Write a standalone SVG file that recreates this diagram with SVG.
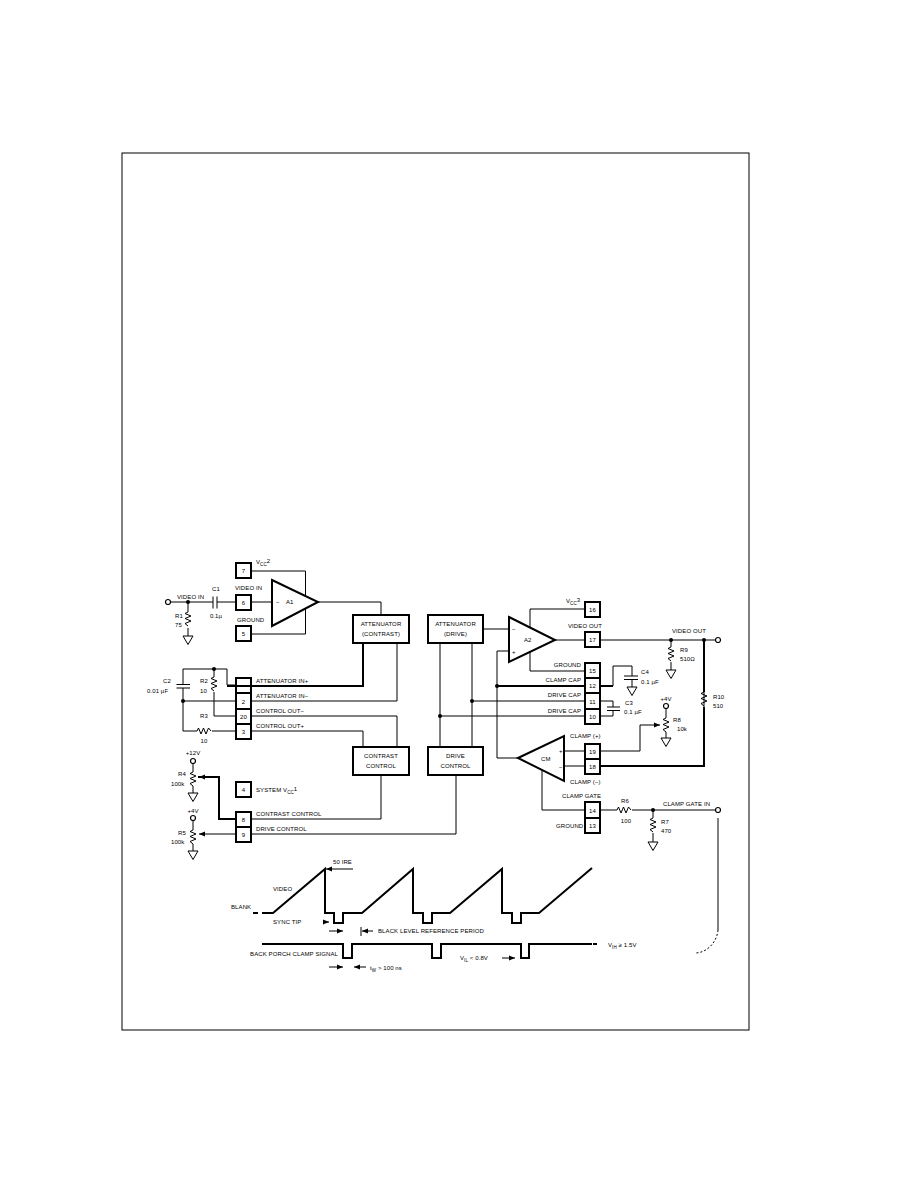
<svg xmlns="http://www.w3.org/2000/svg" width="918" height="1188" viewBox="0 0 918 1188">
<style>
text{font-family:"Liberation Sans",Arial,sans-serif;font-size:6px;fill:#000;letter-spacing:.1px}
.m{text-anchor:middle}.e{text-anchor:end}
.p{fill:#fff;stroke:#000;stroke-width:2}
.w,.t,.r,.g,.c{fill:none;stroke:#000}
.w{stroke-width:1}.t{stroke-width:2}.r{stroke-width:1}.g{stroke-width:1;fill:#fff}
</style>
<defs>
<marker id="a" markerWidth="7" markerHeight="6" refX="6" refY="3" orient="auto" markerUnits="userSpaceOnUse"><path d="M0 .5L6 3L0 5.5Z"/></marker>
<path id="rv" class="r" d="M0 0l-3 1.5l6 2.5l-6 2.5l6 2.5l-6 2.5l3 2.5"/>
<path id="rh" class="r" d="M0 0l1.5 -3l2.5 6l2.5 -6l2.5 6l2.500 -6l2.500 3"/>
<path id="gnd" class="g" d="M-5 0H5L0 8.500Z"/>
<circle id="o" r="2.500" fill="#fff" stroke="#000" stroke-width="1.200"/>
<circle id="dot" r="2" fill="#000"/>
</defs>
<rect width="918" height="1188" fill="#fff"/>
<rect x="122" y="153" width="627" height="877" fill="none" stroke="#000"/>

<g id="amp-a1"><path class="p" d="M272 580L318 602L272 626Z"/><text x="276" y="604">−</text><text x="286" y="604">A1</text></g>
<g id="amp-a2"><path class="p" d="M509 617L555 640L509 662Z"/><text x="512" y="631">−</text><text x="512" y="654">+</text><text x="524" y="642">A2</text></g>
<g id="amp-cm"><path class="p" d="M518 758L564 736L564 781Z"/><text x="559" y="753">+</text><text x="559" y="769">−</text><text x="541" y="761">CM</text></g>

<g id="att-contrast"><rect class="p" x="353" y="615" width="56" height="28"/><text class="m" x="381" y="626">ATTENUATOR</text><text class="m" x="381" y="636">(CONTRAST)</text></g>
<g id="att-drive"><rect class="p" x="428" y="615" width="55" height="28"/><text class="m" x="455.500" y="626">ATTENUATOR</text><text class="m" x="455.500" y="636">(DRIVE)</text></g>
<g id="contrast-control"><rect class="p" x="353" y="747" width="56" height="28"/><text class="m" x="381" y="758">CONTRAST</text><text class="m" x="381" y="768">CONTROL</text></g>
<g id="drive-control"><rect class="p" x="428" y="747" width="55" height="28"/><text class="m" x="455.500" y="758">DRIVE</text><text class="m" x="455.500" y="768">CONTROL</text></g>

<g id="pin-7a"><rect class="p" x="236" y="563" width="15" height="15"/><text class="m" x="243.500" y="573">7</text></g>
<g id="pin-6"><rect class="p" x="236" y="595" width="15" height="15"/><text class="m" x="243.500" y="605">6</text></g>
<g id="pin-5"><rect class="p" x="236" y="626" width="15" height="15"/><text class="m" x="243.500" y="636">5</text></g>
<g id="pin-1"><rect class="p" x="236" y="678" width="15" height="15"/></g>
<g id="pin-2"><rect class="p" x="236" y="693" width="15" height="16"/><text class="m" x="243.500" y="704">2</text></g>
<g id="pin-20"><rect class="p" x="236" y="709" width="15" height="15"/><text class="m" x="243.500" y="719">20</text></g>
<g id="pin-3"><rect class="p" x="236" y="724" width="15" height="15"/><text class="m" x="243.500" y="734">3</text></g>
<g id="pin-4"><rect class="p" x="236" y="782" width="15" height="15"/><text class="m" x="243.500" y="792">4</text></g>
<g id="pin-8"><rect class="p" x="236" y="812" width="15" height="15"/><text class="m" x="243.500" y="822">8</text></g>
<g id="pin-9"><rect class="p" x="236" y="827" width="15" height="15"/><text class="m" x="243.500" y="837">9</text></g>
<g id="pin-16"><rect class="p" x="585" y="602" width="15" height="15"/><text class="m" x="592.500" y="612">16</text></g>
<g id="pin-17"><rect class="p" x="585" y="632" width="15" height="15"/><text class="m" x="592.500" y="642">17</text></g>
<g id="pin-15"><rect class="p" x="585" y="663" width="15" height="15"/><text class="m" x="592.500" y="673">15</text></g>
<g id="pin-12"><rect class="p" x="585" y="678" width="15" height="15"/><text class="m" x="592.500" y="688">12</text></g>
<g id="pin-11"><rect class="p" x="585" y="693" width="15" height="16"/><text class="m" x="592.500" y="704">11</text></g>
<g id="pin-10"><rect class="p" x="585" y="709" width="15" height="15"/><text class="m" x="592.500" y="719">10</text></g>
<g id="pin-19"><rect class="p" x="585" y="744" width="15" height="15"/><text class="m" x="592.500" y="754">19</text></g>
<g id="pin-18"><rect class="p" x="585" y="759" width="15" height="15"/><text class="m" x="592.500" y="769">18</text></g>
<g id="pin-14"><rect class="p" x="585" y="802" width="15" height="16"/><text class="m" x="592.500" y="813">14</text></g>
<g id="pin-13"><rect class="p" x="585" y="818" width="15" height="15"/><text class="m" x="592.500" y="828">13</text></g>

<g id="connectors">
<path class="w" d="M171 602H213M217 602H236M188 602V612M188 628V636"/>
<path class="w" d="M213 596.500V608.500M217 596.500V608.500"/>
<path class="w" d="M251 571H305.500V596M251 634H305.500V609M251 602H272M318 602H381V615"/>
<path class="w" d="M183 669H227V685H236M214 669V677M214 692V716H236M183 669V684M183 688V731H197M183 701H236M212 731H236"/>
<path class="w" d="M176.500 684.500H190M176.500 688H190"/>
<path class="t" d="M227 686H363V643"/>
<path class="w" d="M251 701H397V643M251 716H397V747M251 731H363V747"/>
<path class="t" d="M198 777H219V819H236"/>
<path class="w" d="M251 819H381V775M251 834H456V775"/>
<path class="w" d="M236 834H199" marker-end="url(#a)"/>
<path class="w" d="M219 777H199" marker-end="url(#a)"/>
<path class="w" d="M483 629H509M440 643V747M472 643V747M530 627V609H585M530 652V671H585M509 651H497V758H518M555 640H585M600 640H715"/>
<path class="t" d="M497 686H585M600 686H613"/>
<path class="w" d="M613 686V666H632V676M632 679V687M624 676H638M624 679.500H638"/>
<path class="w" d="M472 701H585M440 716H585M600 701H613V707M600 716H613V710M607 707H620M607 710.500H620"/>
<path class="w" d="M671 640V647M671 662V670"/>
<path class="t" d="M704 640V692M704 707V766H600"/>
<path class="w" d="M704 692V707"/>
<path class="w" d="M564 751H585M564 766H585M600 751H640V725"/>
<path class="w" d="M640 725H660" marker-end="url(#a)"/>
<path class="w" d="M666 709V718M666 732V738"/>
<path class="w" d="M542 770V810H585M600 810H617M632 810H715M653 810V818M653 833V842"/>
<path class="w" d="M193 763V772M193 786V793M193 820V830M193 844V851"/>
<path class="w" d="M718 818V930"/>
<path class="w" stroke-dasharray="2 2" d="M718 930C717 942 707 953 695 953"/>
</g>

<g id="parts">
<use href="#o" x="168" y="602"/><use href="#dot" x="188" y="602"/>
<use href="#rv" x="188" y="612"/><use href="#gnd" x="188" y="636"/>
<use href="#dot" x="214" y="669"/><use href="#dot" x="183" y="701"/>
<use href="#rv" x="214" y="677"/><use href="#rh" x="197" y="731"/>
<use href="#o" x="193" y="761"/><use href="#rv" x="193" y="772"/><use href="#gnd" x="193" y="793"/>
<use href="#o" x="193" y="818"/><use href="#rv" x="193" y="830"/><use href="#gnd" x="193" y="851"/>
<use href="#dot" x="497" y="686"/><use href="#dot" x="472" y="701"/><use href="#dot" x="440" y="716"/>
<use href="#gnd" x="632" y="687"/>
<use href="#dot" x="671" y="640"/><use href="#dot" x="704" y="640"/><use href="#o" x="718" y="640"/>
<use href="#rv" x="671" y="647"/><use href="#gnd" x="671" y="670"/>
<use href="#rv" x="704" y="692"/>
<use href="#o" x="666" y="706"/><use href="#rv" x="666" y="718"/><use href="#gnd" x="666" y="738"/>
<use href="#rh" x="617" y="810"/><use href="#dot" x="653" y="810"/><use href="#o" x="718" y="810"/>
<use href="#rv" x="653" y="818"/><use href="#gnd" x="653" y="842"/>
</g>

<g id="waveforms">
<path class="t" d="M253 913H258M262 913H273L325 869V913H334V923H343V913H362L413 869V913H423V923H432V913H450L502 869V913H512V923H521V913H539L592 868"/>
<path class="t" d="M262 944H343V958H352V944H432V958H441V944H521V958H529V944H592M593 944H597"/>
<path class="w" d="M353 869H326" marker-end="url(#a)"/>
<path class="w" d="M325 922H329"  marker-end="url(#a)"/>
<path class="w" d="M329 931H343" marker-end="url(#a)"/>
<path class="w" d="M361 927V936"/>
<path class="w" d="M373 931H362" marker-end="url(#a)"/>
<path class="w" d="M329 967H343" marker-end="url(#a)"/>
<path class="w" d="M366 967H354" marker-end="url(#a)"/>
<path class="w" d="M502 958H515" marker-end="url(#a)"/>
</g>

<g id="labels">
<text x="177" y="599">VIDEO IN</text><text class="m" x="216" y="591">C1</text><text class="m" x="216" y="618">0.1µ</text>
<text x="175" y="618">R1</text><text x="175" y="627">75</text>
<text x="235" y="590">VIDEO IN</text><text x="237" y="622">GROUND</text>
<text x="256" y="564">V<tspan font-size="4.500" dy="1.500">CC</tspan><tspan dy="-3">2</tspan></text>
<text x="163" y="683">C2</text><text x="147" y="693">0.01 µF</text>
<text x="200" y="683">R2</text><text x="200" y="693">10</text>
<text x="256" y="683">ATTENUATOR IN+</text><text x="256" y="698">ATTENUATOR IN−</text><text x="256" y="713">CONTROL OUT−</text><text x="256" y="728">CONTROL OUT+</text>
<text class="m" x="204" y="718">R3</text><text class="m" x="204" y="743">10</text>
<text class="m" x="193" y="755">+12V</text><text x="178" y="776">R4</text><text x="171" y="786">100k</text>
<text class="m" x="193" y="813">+4V</text><text x="178" y="835">R5</text><text x="171" y="844">100k</text>
<text x="256" y="792">SYSTEM V<tspan font-size="4.500" dy="1.500">CC</tspan><tspan dy="-3">1</tspan></text>
<text x="256" y="816">CONTRAST CONTROL</text><text x="256" y="831">DRIVE CONTROL</text>
<text x="566" y="603">V<tspan font-size="4.500" dy="1.500">CC</tspan><tspan dy="-3">3</tspan></text>
<text x="568" y="628">VIDEO OUT</text>
<text class="e" x="581" y="667">GROUND</text><text class="e" x="581" y="682">CLAMP CAP</text><text class="e" x="581" y="697">DRIVE CAP</text><text class="e" x="581" y="713">DRIVE CAP</text>
<text x="641" y="674">C4</text><text x="641" y="684">0.1 µF</text>
<text x="625" y="705">C3</text><text x="624" y="714">0.1 µF</text>
<text x="672" y="633">VIDEO OUT</text><text x="680" y="652">R9</text><text x="680" y="661">510Ω</text>
<text x="713" y="699">R10</text><text x="713" y="708">510</text>
<text class="m" x="666" y="701">+4V</text><text x="673" y="722">R8</text><text x="677" y="731">10k</text>
<text x="570" y="738">CLAMP (+)</text><text x="570" y="784">CLAMP (−)</text>
<text x="562" y="798">CLAMP GATE</text><text x="556" y="828">GROUND</text>
<text class="m" x="625" y="803">R6</text><text class="m" x="626" y="823">100</text>
<text x="663" y="806">CLAMP GATE IN</text><text x="661" y="824">R7</text><text x="661" y="833">470</text>
<text x="333" y="864">50 IRE</text><text x="273" y="891">VIDEO</text><text x="231" y="909">BLANK</text>
<text x="273" y="924">SYNC TIP</text><text x="378" y="933">BLACK LEVEL REFERENCE PERIOD</text>
<text class="e" x="338" y="956">BACK PORCH CLAMP SIGNAL</text>
<text x="370" y="970">t<tspan font-size="4.500" dy="1.500">W</tspan><tspan dy="-1.500"> &gt; 100 ns</tspan></text>
<text x="460" y="960">V<tspan font-size="4.500" dy="1.500">IL</tspan><tspan dy="-1.500"> &lt; 0.8V</tspan></text>
<text x="608" y="947">V<tspan font-size="4.500" dy="1.500">IH</tspan><tspan dy="-1.500"> ≥ 1.5V</tspan></text>
</g>
</svg>
